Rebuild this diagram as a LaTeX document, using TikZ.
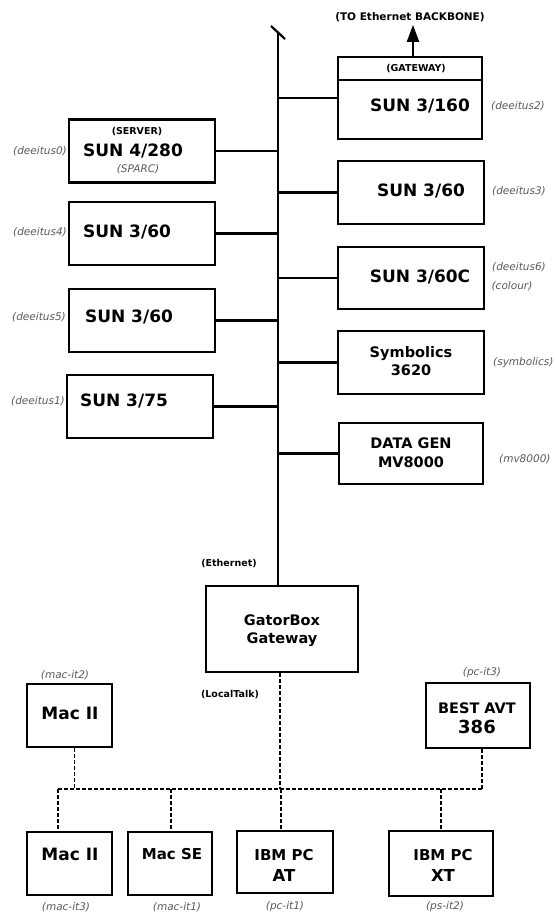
\documentclass[tikz,border=0pt]{standalone}
\usepackage{fontspec}
\setmainfont{DejaVu Sans}
\usetikzlibrary{arrows.meta}

\tikzset{
  host/.style={draw, line width=2.2pt, minimum width=146pt, minimum height=63pt, inner sep=0pt},
  bigtext/.style={font=\bfseries\fontsize{17}{19}\selectfont, inner sep=0pt},
  midtext/.style={font=\bfseries\fontsize{14.5}{18}\selectfont, align=center, inner sep=0pt},
  tagtext/.style={font=\bfseries\fontsize{9.5}{11}\selectfont, inner sep=0pt},
  hostname/.style={font=\itshape\fontsize{10.5}{12}\selectfont, text=black!65, inner sep=0pt},
  wire/.style={line width=2.2pt},
  lt/.style={line width=1.7pt, dash pattern=on 4pt off 2pt},
}

\begin{document}
\begin{tikzpicture}[x=1pt, y=-1pt]
    \useasboundingbox (0,0) rectangle (556,913);

    % Ethernet hosts, left column
    \node[host] (srv) at (142,151) {};
    \node[host] (d4) at (142,233.5) {};
    \node[host] (d5) at (142,320.5) {};
    \node[host] (d1) at (140,406.5) {};
    \node[tagtext] (srvtag) at (137,132) {(SERVER)};
    \node[bigtext] (srvname) at (133,151) {SUN 4/280};
    \node[hostname] (srvcpu) at (138,169) {(SPARC)};
    \node[bigtext] (d4name) at (127,232) {SUN 3/60};
    \node[bigtext] (d5name) at (129,317) {SUN 3/60};
    \node[bigtext] (d1name) at (124,401) {SUN 3/75};
    \node[hostname] (srvhost) at (40,151) {(deeitus0)};
    \node[hostname] (d4host) at (40,232) {(deeitus4)};
    \node[hostname] (d5host) at (39,317) {(deeitus5)};
    \node[hostname] (d1host) at (38,401) {(deeitus1)};

    % Ethernet hosts, right column
    \node[host, minimum width=144pt, minimum height=82pt] (gw) at (410,98) {};
    \coordinate (gwdiv) at (410,80);
    \draw[line width=1.8pt] (gw.west |- gwdiv) -- (gw.east |- gwdiv);
    \node[tagtext] (gwtag) at (416,69) {(GATEWAY)};
    \node[bigtext] (gwname) at (420,106) {SUN 3/160};
    \node[host] (d3) at (411,192.5) {};
    \node[host, minimum height=62pt] (d6) at (411,278) {};
    \node[host] (sym) at (411,362.5) {};
    \node[host, minimum width=144pt, minimum height=61pt] (dg) at (411,453.5) {};
    \node[bigtext] (d3name) at (421,191) {SUN 3/60};
    \node[bigtext] (d6name) at (420,277) {SUN 3/60C};
    \node[midtext] (symname) at (411,361) {Symbolics\\3620};
    \node[midtext] (dgname) at (411,453) {DATA GEN\\[1pt]MV8000};
    \node[hostname] (gwhost) at (518,106) {(deeitus2)};
    \node[hostname] (d3host) at (519,191) {(deeitus3)};
    \node[hostname] (d6host) at (519,267) {(deeitus6)};
    \node[hostname] (d6note) at (512,286) {(colour)};
    \node[hostname, anchor=west] (symhost) at (493,363) {(symbolics)};
    \node[hostname, anchor=west] (dghost) at (499,459) {(mv8000)};

    % Backbone
    \node[tagtext, font=\bfseries\fontsize{10.5}{12}\selectfont] (bone) at (410,17) {(TO Ethernet BACKBONE)};
    \draw[wire, -{Triangle[length=17pt,width=12pt]}, shorten >=3pt] ([xshift=3pt]gw.north) -- ([xshift=3pt]gw.north |- bone.south);
    \node[host, minimum width=152pt, minimum height=86pt] (gb) at (282,629) {};
    \node[midtext] (gbname) at (282,631) {GatorBox\\Gateway};
    \node[tagtext] (ether) at (229,564) {(Ethernet)};
    \node[tagtext] (ltalk) at (230,695) {(LocalTalk)};
    \coordinate (bbtop) at (278,33);
    \draw[wire, line width=2.4pt] (bbtop) -- (bbtop |- gb.north);
    \draw[wire] ([shift={(-7,-7)}]bbtop) -- ([shift={(7,6)}]bbtop);
    \foreach \h in {srv,d4,d5,d1}
        \draw[wire] (\h.east) -- (\h.east -| bbtop);
    \foreach \h in {gw,d3,d6,sym,dg}
        \draw[wire] (\h.west) -- (\h.west -| bbtop);

    % LocalTalk hosts
    \node[host, minimum width=85pt] (mac2) at (69.5,715.5) {};
    \node[host, minimum width=104pt, minimum height=65pt] (avt) at (478,715.5) {};
    \node[host, minimum width=85pt] (mac3) at (69.5,863.5) {};
    \node[host, minimum width=84pt] (mse) at (170,863.5) {};
    \node[host, minimum width=96pt, minimum height=62pt] (at) at (285,862) {};
    \node[host, minimum width=104pt, minimum height=65pt] (xt) at (441,863.5) {};
    \node[bigtext] (mac2name) at (70,713) {Mac II};
    \node[midtext] (avtname) at (477,718) {BEST AVT\\[2pt]{\fontsize{18}{20}\selectfont 386}};
    \node[bigtext] (mac3name) at (70,854) {Mac II};
    \node[midtext, font=\bfseries\fontsize{15}{18}\selectfont] (msename) at (172,854) {Mac SE};
    \node[midtext, font=\bfseries\fontsize{15}{18}\selectfont] (atname) at (284,865.5) {IBM PC\\[3pt]{\fontsize{16.5}{18}\selectfont AT}};
    \node[midtext, font=\bfseries\fontsize{15}{18}\selectfont] (xtname) at (443,865.5) {IBM PC\\[3pt]{\fontsize{16.5}{18}\selectfont XT}};
    \node[hostname] (mac2host) at (65,675) {(mac-it2)};
    \node[hostname] (avthost) at (482,673) {(pc-it3)};
    \node[hostname] (mac3host) at (66,907) {(mac-it3)};
    \node[hostname] (msehost) at (177,907) {(mac-it1)};
    \node[hostname] (athost) at (285,907) {(pc-it1)};
    \node[hostname] (xthost) at (445,907) {(ps-it2)};

    % LocalTalk bus
    \coordinate (busL) at (58,789);
    \coordinate (busR) at (482,789);
    \draw[lt] (busL) -- (busR);
    \draw[lt] ([xshift=-2pt]gb.south) -- ([xshift=-2pt]gb.south |- busL);
    \draw[lt] ([xshift=5pt]mac2.south) -- ([xshift=5pt]mac2.south |- busL);
    \draw[lt] ([xshift=4pt]avt.south) -- (busR);
    \draw[lt] (busL) -- (busL |- mac3.north);
    \draw[lt] ([xshift=1pt]mse.north |- busL) -- ([xshift=1pt]mse.north);
    \draw[lt] ([xshift=-4pt]at.north |- busL) -- ([xshift=-4pt]at.north);
    \draw[lt] (xt.north |- busL) -- (xt.north);
\end{tikzpicture}
\end{document}
